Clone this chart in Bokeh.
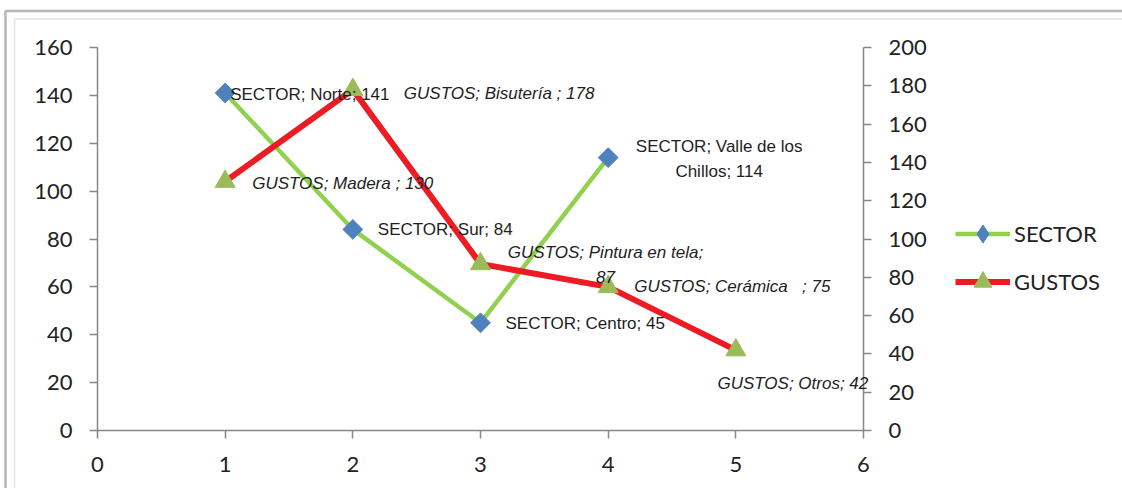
import math
from bokeh.plotting import figure
from bokeh.models import (Range1d, LinearAxis, SingleIntervalTicker, ColumnDataSource,
                          LabelSet, Legend, LegendItem, BoxAnnotation)
from bokeh.core.properties import value
from bokeh.embed import file_html
from bokeh.resources import INLINE

# ---------------- data ----------------
sector_x = [1, 2, 3, 4]
sector_names = ["Norte", "Sur", "Centro", "Valle de los Chillos"]
sector_values = [141, 84, 45, 114]

gustos_x = [1, 2, 3, 4, 5]
gustos_names = ["Madera ", "Bisutería ", "Pintura en tela", "Cerámica   ", "Otros"]
gustos_values = [130, 178, 87, 75, 42]

x_min, x_max, x_interval = 0, 6, 1
left_min, left_max, left_interval = 0, 160, 20
right_min, right_max, right_interval = 0, 200, 20

# ---------------- label styling (screen offsets, wrapping) ----------------
sector_label_dx = [5, 25, 25, 111]
sector_label_dy = [-1.5, 0, -1, -1.5]
sector_label_align = ["left", "left", "left", "center"]
sector_label_wrap = [None, None, None, 20]

gustos_label_dx = [27, 51, 125, 26, 57]
gustos_label_dy = [-2, -4, -1, 0, -33]
gustos_label_align = ["left", "left", "center", "left", "center"]
gustos_label_wrap = [None, None, 24, None, None]
LINE_STEP = 25  # px between wrapped label lines


def label_rows(series, xs, names, vals, dxs, dys, aligns, wraps):
    rows = dict(x=[], y=[], label=[], dx=[], dy=[], align=[])
    for x, n, v, dx, dy, al, w in zip(xs, names, vals, dxs, dys, aligns, wraps):
        txt = f"{series}; {n}; {v}"
        if w is not None:
            cut = txt.rfind(" ", 0, w + 1)
            lines = [txt[:cut], txt[cut + 1:]]
        else:
            lines = [txt]
        k = len(lines)
        for i, ln in enumerate(lines):
            rows["x"].append(x)
            rows["y"].append(v)
            rows["label"].append(ln.replace("  ", "\u00a0\u00a0"))
            rows["dx"].append(dx)
            rows["dy"].append(dy + ((k - 1) / 2 - i) * LINE_STEP)
            rows["align"].append(al)
    return rows


W, H = 1122, 488
FL, FR, FT, FB = 97, 863, 47, 430          # pixel box of the plotting area
sx = (FR - FL) / (x_max - x_min)
sy_l = (FB - FT) / (left_max - left_min)
sy_r = (FB - FT) / (right_max - right_min)

# the frame covers the whole canvas; the axes are pinned at the data box edges
p = figure(width=W, height=H,
           x_range=Range1d(x_min - FL / sx, x_min + (W - FL) / sx),
           y_range=Range1d(left_min - (H - FB) / sy_l, left_min + FB / sy_l),
           output_backend="svg", toolbar_location=None,
           min_border=0, min_border_left=0, min_border_right=0,
           min_border_top=0, min_border_bottom=0)
p.extra_y_ranges = {"right": Range1d(right_min - (H - FB) / sy_r, right_min + FB / sy_r)}
p.grid.visible = False
p.outline_line_color = None
p.background_fill_color = "white"
p.border_fill_color = "white"

axis_color = "#868686"
tick_font = "Lato"
tick_size = "22px"
tick_text_color = "#222222"


def style_axis(ax, standoff):
    ax.axis_line_color = axis_color
    ax.axis_line_width = 1.5
    ax.major_tick_line_color = axis_color
    ax.major_tick_line_width = 1.5
    ax.major_tick_out = 8
    ax.major_tick_in = 0
    ax.minor_tick_line_color = None
    ax.major_label_text_font = tick_font
    ax.major_label_text_font_size = tick_size
    ax.major_label_text_color = tick_text_color
    ax.major_label_standoff = standoff


xa = p.xaxis[0]
xa.ticker = SingleIntervalTicker(interval=x_interval, num_minor_ticks=0)
xa.fixed_location = left_min
xa.bounds = (x_min, x_max)
style_axis(xa, 18)

ya = p.yaxis[0]
ya.ticker = SingleIntervalTicker(interval=left_interval, num_minor_ticks=0)
ya.fixed_location = x_min
ya.bounds = (left_min, left_max)
style_axis(ya, 17)

right_axis = LinearAxis(y_range_name="right", fixed_location=x_max, bounds=(right_min, right_max),
                        ticker=SingleIntervalTicker(interval=right_interval, num_minor_ticks=0))
style_axis(right_axis, 17)
p.add_layout(right_axis, "right")


def px_x(px):
    return x_min + (px - FL) / sx


def px_y(py):
    return left_min + (FB - py) / sy_l


# ---------------- outer chart-area borders ----------------
p.add_layout(BoxAnnotation(left=px_x(5), right=px_x(1140), top=px_y(10.5), bottom=px_y(520),
                           fill_alpha=0, line_color="#111111", line_width=2.5, level="underlay"))
p.add_layout(BoxAnnotation(left=px_x(14), right=px_x(1140), top=px_y(18.5), bottom=px_y(520),
                           fill_alpha=0, line_color="#a6a6a6", line_width=1.5, level="underlay"))

# ---------------- series ----------------
GREEN_LINE, BLUE_MARK = "#92D050", "#4F81BD"
RED_LINE, GREEN_MARK = "#ED1C24", "#9BBB59"

sector_src = ColumnDataSource(dict(x=sector_x, y=sector_values))
gustos_src = ColumnDataSource(dict(x=gustos_x, y=gustos_values))
sector_lbl = ColumnDataSource(label_rows("SECTOR", sector_x, sector_names, sector_values,
                                         sector_label_dx, sector_label_dy, sector_label_align,
                                         sector_label_wrap))
gustos_lbl = ColumnDataSource(label_rows("GUSTOS", gustos_x, gustos_names, gustos_values,
                                         gustos_label_dx, gustos_label_dy, gustos_label_align,
                                         gustos_label_wrap))

l1 = p.line("x", "y", source=sector_src, line_color=GREEN_LINE, line_width=4.5)
m1 = p.scatter("x", "y", source=sector_src, marker="square", angle=math.pi / 4, size=14,
               fill_color=BLUE_MARK, line_color=BLUE_MARK)
l2 = p.line("x", "y", source=gustos_src, y_range_name="right", line_color=RED_LINE, line_width=6)
m2 = p.scatter("x", "y", source=gustos_src, y_range_name="right", marker="triangle", size=20,
               fill_color=GREEN_MARK, line_color=GREEN_MARK)

# legend-only marker proxy (legend swatches ignore marker rotation); NaN point is not drawn
proxy = ColumnDataSource(dict(x=[float("nan")], y=[float("nan")]))
k1 = p.scatter("x", "y", source=proxy, marker="diamond", size=18,
               fill_color=BLUE_MARK, line_color=BLUE_MARK)

label_color = "#1e1e1e"
p.add_layout(LabelSet(x="x", y="y", text="label", source=sector_lbl,
                      x_offset="dx", y_offset="dy", text_align="align", text_baseline="middle",
                      text_font=value("Liberation Sans"), text_font_size="17px",
                      text_color=label_color))
p.add_layout(LabelSet(x="x", y="y", text="label", source=gustos_lbl, y_range_name="right",
                      x_offset="dx", y_offset="dy", text_align="align", text_baseline="middle",
                      text_font=value("Liberation Sans"), text_font_size="17px",
                      text_font_style="italic", text_color=label_color))

legend = Legend(items=[LegendItem(label="SECTOR", renderers=[l1, k1]),
                       LegendItem(label="GUSTOS", renderers=[l2, m2])],
                location=(955, H - 303.5), orientation="vertical",
                glyph_width=55, glyph_height=45, label_height=20, label_standoff=4,
                spacing=3, padding=0, margin=0,
                border_line_color=None, background_fill_alpha=0,
                label_text_font="Lato", label_text_font_size="22px",
                label_text_color=tick_text_color, label_text_baseline="middle")
p.add_layout(legend)

open("out.html", "w").write(file_html(p, INLINE))
